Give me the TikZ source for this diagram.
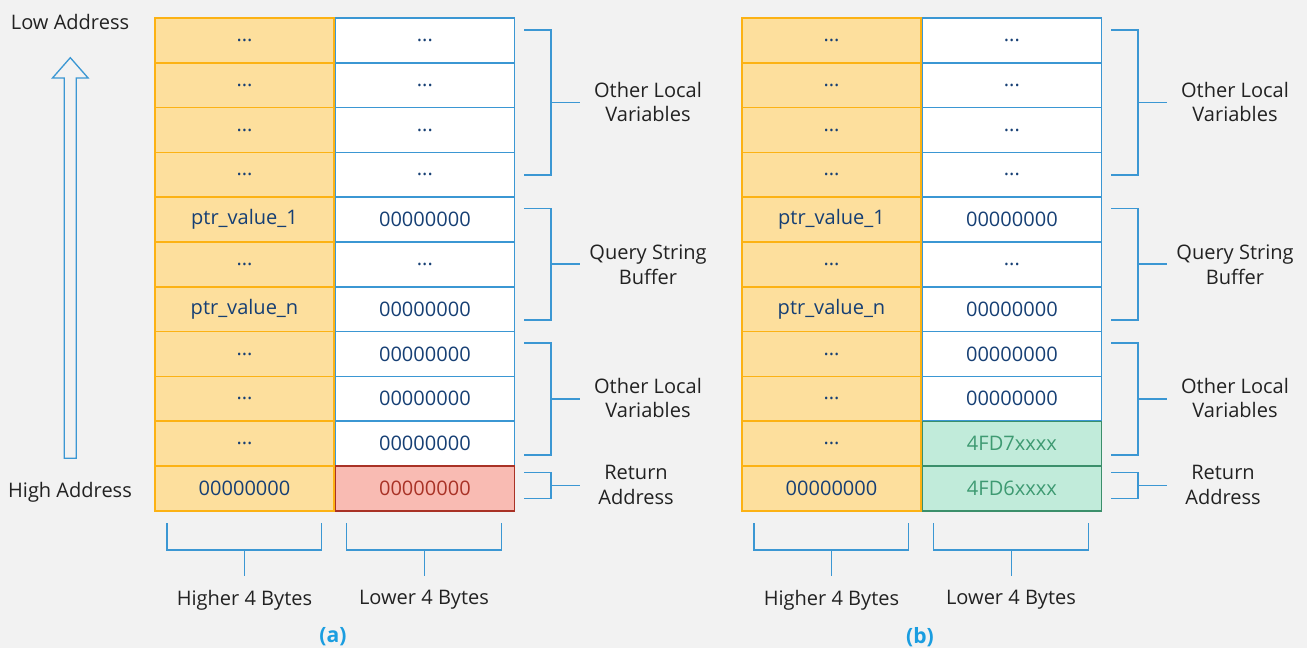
\documentclass[tikz,border=0pt]{standalone}
\usepackage{fontspec}
\setmainfont{Open Sans}
\usetikzlibrary{positioning}

\definecolor{pagebg}{HTML}{F2F2F2}
\definecolor{hifill}{HTML}{FDDF9D}
\definecolor{hiline}{HTML}{FCB214}
\definecolor{loline}{HTML}{3B97D3}
\definecolor{cellink}{HTML}{163F74}
\definecolor{badfill}{HTML}{F9BBB3}
\definecolor{badline}{HTML}{A93226}
\definecolor{okfill}{HTML}{C1EBDA}
\definecolor{okline}{HTML}{3B8F6B}
\definecolor{okink}{HTML}{3E9A72}
\definecolor{labink}{HTML}{222222}
\definecolor{capink}{HTML}{1A9DE0}

\newcommand{\rowdots}{...}
% side bracket: x, top, bottom
\newcommand{\sidebrace}[3]{%
  \draw[brace] (#1,#2) -- ++(27,0) |- (#1,#3);
  \draw[brace] ({#1+27},{(#2+#3)/2}) -- ++(29,0);}
% bracket under a column: left, right
\newcommand{\footbrace}[2]{%
  \draw[brace] (#1,523) |- (#2,550) -- (#2,523);
  \draw[brace] ({(#1+#2)/2},550) -- ++(0,26);}

\begin{document}
\begin{tikzpicture}[x=0.02cm,y=-0.02cm,
    font=\fontsize{11.4}{14.2}\selectfont,
    cell/.style = {minimum width=3.58cm, minimum height=0.896cm, inner sep=0pt, line width=0.8pt, text=cellink},
    lcell/.style = {cell, draw=hiline, fill=hifill},
    rcell/.style = {cell, draw=loline, fill=white},
    hotcell/.style = {cell, draw=badline, fill=badfill, text=badline},
    newcell/.style = {cell, draw=okline, fill=okfill, text=okink},
    brace/.style = {draw=loline, line width=0.75pt},
    lab/.style = {text=labink, align=center},
    subcap/.style = {text=capink, font=\fontsize{12}{14}\selectfont\bfseries}]
  \useasboundingbox[fill=pagebg] (0,0) rectangle (1307,648);

  % address direction
  \node[lab] (low) at (70,22) {Low Address};
  \node[lab] (high) at (70,492) {High Address};
  \draw[loline, line width=0.75pt, fill=pagebg] (64.3,458.3) -- (64.3,78) -- (52.5,78) -- (70.3,57.7)
    -- (88.1,78) -- (76.3,78) -- (76.3,458.3) -- cycle;

  % stack (a)
  \foreach \lt/\rt/\st [count=\i] in {\rowdots/\rowdots/rcell, \rowdots/\rowdots/rcell,
      \rowdots/\rowdots/rcell, \rowdots/\rowdots/rcell, ptr\_value\_1/00000000/rcell,
      \rowdots/\rowdots/rcell, ptr\_value\_n/00000000/rcell, \rowdots/00000000/rcell,
      \rowdots/00000000/rcell, \rowdots/00000000/rcell, 00000000/00000000/hotcell} {
    \node[lcell] (a-l\i) at (244.5,{18+44.8*(\i-0.5)}) {\lt};
  }
  \foreach \lt/\rt/\st [count=\i] in {\rowdots/\rowdots/rcell, \rowdots/\rowdots/rcell,
      \rowdots/\rowdots/rcell, \rowdots/\rowdots/rcell, ptr\_value\_1/00000000/rcell,
      \rowdots/\rowdots/rcell, ptr\_value\_n/00000000/rcell, \rowdots/00000000/rcell,
      \rowdots/00000000/rcell, \rowdots/00000000/rcell, 00000000/00000000/hotcell} {
    \node[\st] (a-r\i) [right=0pt of a-l\i] {\rt};
  }

  % stack (b)
  \foreach \lt/\rt/\st [count=\i] in {\rowdots/\rowdots/rcell, \rowdots/\rowdots/rcell,
      \rowdots/\rowdots/rcell, \rowdots/\rowdots/rcell, ptr\_value\_1/00000000/rcell,
      \rowdots/\rowdots/rcell, ptr\_value\_n/00000000/rcell, \rowdots/00000000/rcell,
      \rowdots/00000000/rcell, \rowdots/4FD7xxxx/newcell, 00000000/4FD6xxxx/newcell} {
    \node[lcell] (b-l\i) at (831.5,{18+44.8*(\i-0.5)}) {\lt};
  }
  \foreach \lt/\rt/\st [count=\i] in {\rowdots/\rowdots/rcell, \rowdots/\rowdots/rcell,
      \rowdots/\rowdots/rcell, \rowdots/\rowdots/rcell, ptr\_value\_1/00000000/rcell,
      \rowdots/\rowdots/rcell, ptr\_value\_n/00000000/rcell, \rowdots/00000000/rcell,
      \rowdots/00000000/rcell, \rowdots/4FD7xxxx/newcell, 00000000/4FD6xxxx/newcell} {
    \node[\st] (b-r\i) [right=0pt of b-l\i] {\rt};
  }
  % green cells share an edge
  \draw[okline, line width=0.8pt] (b-r10.south west) -- (b-r10.south east);

  % groups on the right
  \foreach \dx/\p in {0/a, 587/b} {
    \sidebrace{524+\dx}{30}{175}
    \sidebrace{524+\dx}{208.3}{320}
    \sidebrace{524+\dx}{343}{455}
    \sidebrace{524+\dx}{472.7}{498.3}
    \node[lab] (\p-locals) at (648+\dx,102) {Other Local\\Variables};
    \node[lab] (\p-query) at (648+\dx,264.5) {Query String\\Buffer};
    \node[lab] (\p-more) at (648+\dx,398) {Other Local\\Variables};
    \node[lab] (\p-ret) at (636+\dx,485) {Return\\Address};
    \footbrace{167+\dx}{321.7+\dx}
    \footbrace{346.7+\dx}{501.7+\dx}
    \node[lab] (\p-hi) at (244.5+\dx,600) {Higher 4 Bytes};
    \node[lab] (\p-lo) at (424+\dx,600) {Lower 4 Bytes};
  }

  \node[subcap] (cap-a) at (333,637) {(a)};
  \node[subcap] (cap-b) at (920,637) {(b)};
\end{tikzpicture}
\end{document}
